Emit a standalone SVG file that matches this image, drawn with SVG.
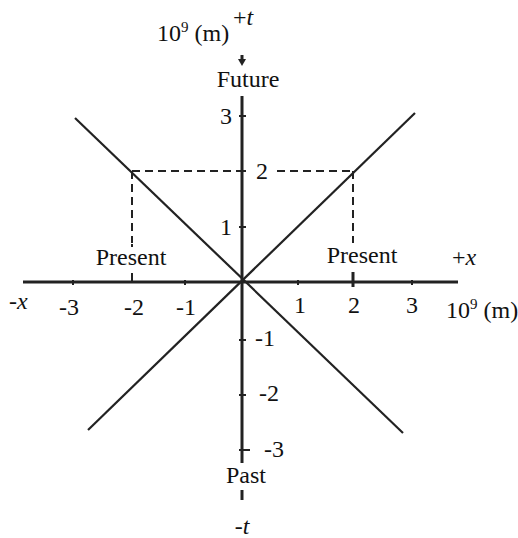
<svg xmlns="http://www.w3.org/2000/svg" width="518" height="538" viewBox="0 0 518 538">
<style>
text{font-family:"Liberation Serif","Times New Roman",serif;font-size:24px;fill:#111}
.m{text-anchor:middle}
.i{font-style:italic}
.ax{stroke:#222;stroke-width:3;fill:none}
.dg{stroke:#222;stroke-width:2.2;fill:none}
.ds{stroke:#222;stroke-width:2;fill:none;stroke-dasharray:8 5}
.tk{stroke:#222;stroke-width:2}
</style>
<rect width="518" height="538" fill="#fff"/>
<g id="connectors">
<line class="ax" x1="23" y1="282" x2="458" y2="282"/>
<line class="ax" x1="242" y1="96" x2="242" y2="463"/>
<line class="ax" x1="242" y1="55" x2="242" y2="60"/>
<polygon points="238,59 246,59 242,66" fill="#222"/>
<line class="ax" x1="242" y1="490" x2="242" y2="500"/>
<line class="dg" x1="75" y1="118" x2="403" y2="433"/>
<line class="dg" x1="88" y1="430" x2="415" y2="113"/>
<line class="ds" x1="132" y1="171" x2="241" y2="171"/>
<line class="ds" x1="277" y1="171" x2="353" y2="171"/>
<line class="ds" x1="132" y1="171" x2="132" y2="243"/>
<line class="ds" x1="353" y1="171" x2="353" y2="243"/>
<line class="tk" x1="132" y1="244" x2="132" y2="247"/>
<line class="tk" x1="132" y1="273" x2="132" y2="282"/>
<line class="ax" x1="353" y1="272" x2="353" y2="287"/>
<g class="tk">
<line x1="73" y1="280" x2="73" y2="285"/>
<line x1="185" y1="280" x2="185" y2="285"/>
<line x1="298" y1="280" x2="298" y2="285"/>
<line x1="412" y1="280" x2="412" y2="285"/>
<line x1="239" y1="116" x2="246" y2="116"/>
<line x1="239" y1="171" x2="246" y2="171"/>
<line x1="239" y1="227" x2="246" y2="227"/>
<line x1="239" y1="340" x2="246" y2="340"/>
<line x1="239" y1="395" x2="246" y2="395"/>
<line x1="239" y1="450" x2="250" y2="450"/>
</g>
</g>
<g id="labels">
<text x="157" y="41">10<tspan font-size="15" dy="-9">9</tspan><tspan dy="9"> (m)</tspan></text>
<text x="233" y="25">+<tspan class="i">t</tspan></text>
<text class="m" x="248" y="87">Future</text>
<text class="m" x="246" y="483">Past</text>
<text class="m i" x="242" y="534">-t</text>
<text class="m" x="131" y="265">Present</text>
<text class="m" x="362" y="263">Present</text>
<text x="9" y="309">-<tspan class="i">x</tspan></text>
<text x="452" y="265">+<tspan class="i">x</tspan></text>
<text x="446" y="318">10<tspan font-size="15" dy="-9">9</tspan><tspan dy="9"> (m)</tspan></text>
<text class="m" x="69" y="315">-3</text>
<text class="m" x="134" y="315">-2</text>
<text class="m" x="186" y="315">-1</text>
<text class="m" x="300" y="313">1</text>
<text class="m" x="354" y="313">2</text>
<text class="m" x="412" y="313">3</text>
<text class="m" x="226" y="124">3</text>
<text class="m" x="262" y="179">2</text>
<text class="m" x="226" y="235">1</text>
<text class="m" x="265" y="346">-1</text>
<text class="m" x="269" y="401">-2</text>
<text class="m" x="274" y="457">-3</text>
</g>
</svg>
